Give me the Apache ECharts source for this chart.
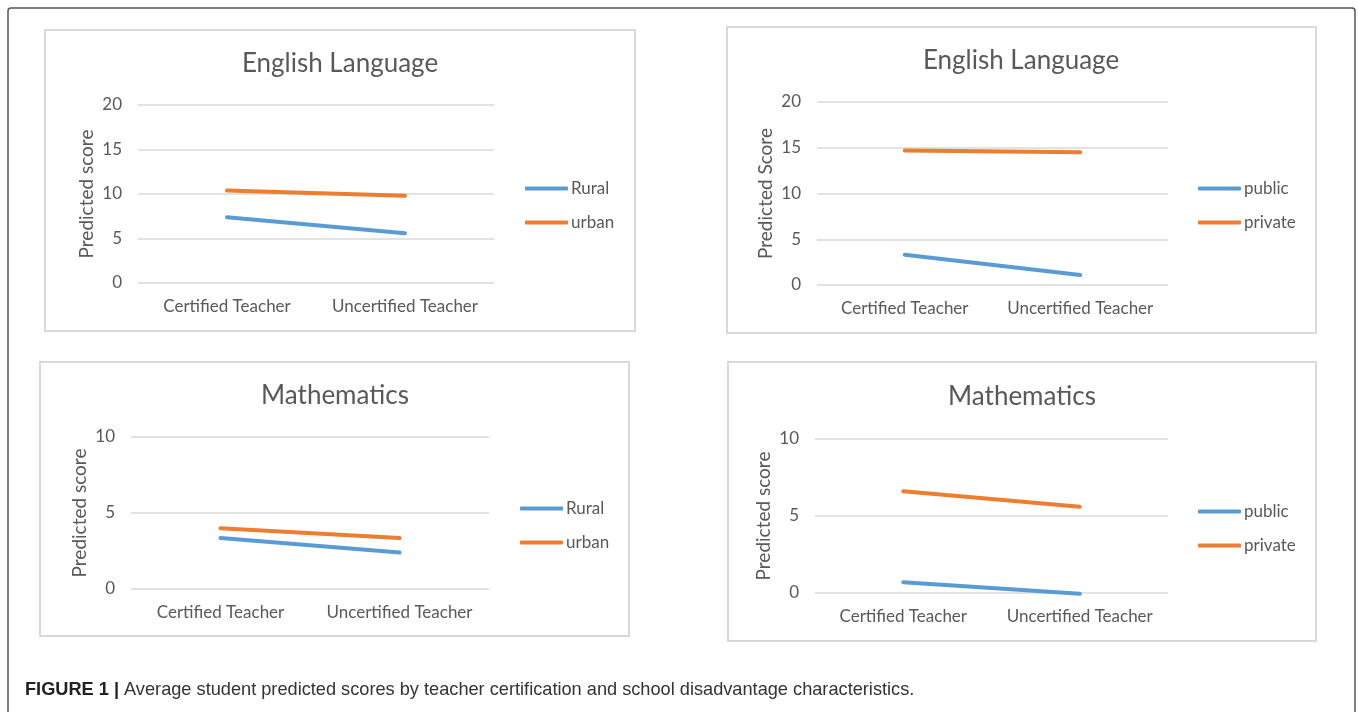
<!DOCTYPE html>
<html>
<head>
<meta charset="utf-8">
<script src="https://cdn.jsdelivr.net/npm/echarts@6/dist/echarts.min.js"></script>
<style>
html,body{margin:0;padding:0;background:#fff;}
#chart{width:1358px;height:712px;}
</style>
</head>
<body>
<div id="chart"></div>
<script>
const categories = ['Certified Teacher', 'Uncertified Teacher'];
const engRural = [7.4, 5.6];
const engUrban = [10.4, 9.8];
const engPublic = [3.3, 1.1];
const engPrivate = [14.7, 14.5];
const mathRural = [3.35, 2.4];
const mathUrban = [4.0, 3.35];
const mathPublic = [0.7, -0.05];
const mathPrivate = [6.6, 5.6];
const panelTitles = ['English Language', 'English Language', 'Mathematics', 'Mathematics'];
const axisNames = ['Predicted score', 'Predicted Score', 'Predicted score', 'Predicted score'];
const yMax = [20, 20, 10, 10];
const captionBold = 'FIGURE 1 |';
const captionText = ' Average student predicted scores by teacher certification and school disadvantage characteristics.';

const BLUE = '#5b9bd5', ORANGE = '#ed7d31', TXT = '#595959', GRID = '#d9d9d9';
const FONT = 'Lato, "Open Sans", sans-serif';

const grids = [
  {left: 138, top: 105, width: 356, height: 178},
  {left: 817, top: 102, width: 351, height: 183},
  {left: 131, top: 437, width: 358, height: 152},
  {left: 815, top: 439, width: 353, height: 154}
];
const titlePos = [[340, 64], [1021, 61], [335, 396], [1022, 397]];
const legendPos = [[525, 189], [1198, 189], [520, 509], [1198, 512]];
const panels = [[45, 30, 635, 331], [727, 27, 1316, 333], [40, 362, 629, 636], [728, 362, 1316, 641]];
const seriesSets = [
  [['Rural', engRural, BLUE], ['urban', engUrban, ORANGE]],
  [['public', engPublic, BLUE], ['private', engPrivate, ORANGE]],
  [['Rural', mathRural, BLUE], ['urban', mathUrban, ORANGE]],
  [['public', mathPublic, BLUE], ['private', mathPrivate, ORANGE]]
];

const xAxis = [], yAxis = [], series = [], title = [], legend = [], graphic = [];

panels.forEach((p, i) => {
  graphic.push({type: 'rect', z: -1, shape: {x: p[0], y: p[1], width: p[2] - p[0], height: p[3] - p[1]},
    style: {fill: '#fff', stroke: GRID, lineWidth: 2}});
});
graphic.push({type: 'rect', z: -2, shape: {x: 8, y: 8, width: 1347, height: 740, r: 3},
  style: {fill: 'transparent', stroke: '#555', lineWidth: 1.5}});
graphic.push({type: 'text', left: 25, top: 681, style: {
  text: '{b|' + captionBold + '}{n|' + captionText + '}',
  rich: {
    b: {fontFamily: '"Liberation Sans", Arial, sans-serif', fontWeight: 'bold', fontSize: 18.2, fill: '#222'},
    n: {fontFamily: '"Liberation Sans", Arial, sans-serif', fontSize: 18.2, fill: '#333'}
  }
}});

grids.forEach((g, i) => {
  xAxis.push({type: 'category', gridIndex: i, data: categories, boundaryGap: true,
    axisLine: {show: false}, axisTick: {show: false},
    axisLabel: {color: TXT, fontSize: 17, fontFamily: FONT, margin: 15, interval: 0, hideOverlap: false}});
  yAxis.push({type: 'value', gridIndex: i, min: 0, max: yMax[i], interval: 5,
    axisLine: {show: false}, axisTick: {show: false},
    axisLabel: {color: TXT, fontSize: 17, fontFamily: FONT, margin: 16},
    splitLine: {lineStyle: {color: GRID, width: 1.5}},
    name: axisNames[i], nameLocation: 'middle', nameGap: 42, nameRotate: 90,
    nameTextStyle: {color: TXT, fontSize: 19, fontFamily: FONT}});
  title.push({text: panelTitles[i], left: titlePos[i][0], top: titlePos[i][1] - 14, textAlign: 'center', padding: 0,
    textStyle: {color: TXT, fontSize: 26, fontWeight: 'normal', fontFamily: FONT, lineHeight: 28}});
  seriesSets[i].forEach(s => {
    series.push({type: 'line', name: s[0], xAxisIndex: i, yAxisIndex: i, data: s[1],
      symbol: 'none', clip: false, color: s[2],
      lineStyle: {width: 4, color: s[2], cap: 'round'}});
  });
  legend.push({orient: 'vertical', left: legendPos[i][0], top: legendPos[i][1] - 9, padding: 0,
    itemWidth: 43, itemHeight: 4, itemGap: 17, icon: 'roundRect',
    data: seriesSets[i].map(s => s[0]),
    textStyle: {color: TXT, fontSize: 17, fontFamily: FONT, padding: [0, 0, 0, -2]}});
});

const chart = echarts.init(document.getElementById('chart'), null, {renderer: 'canvas'});
chart.setOption({
  animation: false,
  backgroundColor: '#fff',
  grid: grids.map(g => Object.assign({containLabel: false}, g)),
  title, legend, xAxis, yAxis, series, graphic
});
</script>
</body>
</html>
